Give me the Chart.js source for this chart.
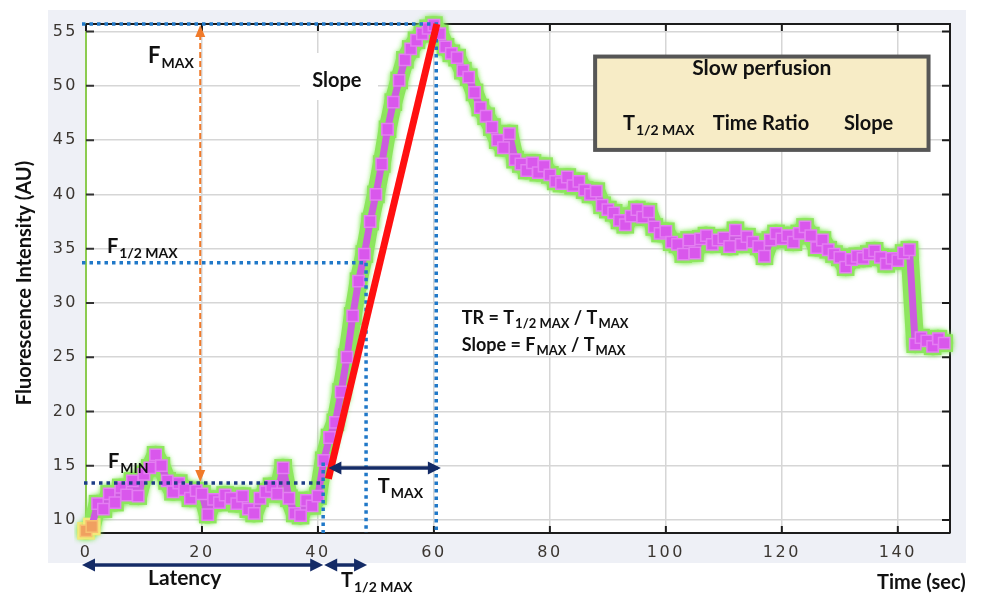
<!DOCTYPE html>
<html>
<head>
<meta charset="utf-8">
<script src="https://cdn.jsdelivr.net/npm/chart.js@4.4.1/dist/chart.umd.min.js"></script>
<style>
  html, body { margin: 0; padding: 0; background: #fff; }
</style>
</head>
<body>
<canvas id="perfChart" width="989" height="596"></canvas>
<script>
// sampling of the trace (seconds between points)
const sampleStep = 1;

// fluorescence intensity (AU), one value per second from t = 0
const intensity = [
  9.0, 9.4, 11.5, 11.0, 12.4, 11.6, 13.0, 12.3, 13.6, 12.2,
  14.2, 14.8, 16.0, 15.0, 13.6, 12.6, 13.4, 12.8, 12.0, 12.7,
  12.4, 10.5, 11.9, 11.6, 12.3, 12.0, 11.5, 12.2, 11.0, 10.6,
  12.0, 12.6, 13.1, 12.4, 14.8, 12.0, 10.6, 10.4, 11.8, 11.3,
  12.2, 15.5, 17.6, 19.0, 21.8, 25.0, 28.8, 32.0, 34.5, 37.5,
  40.0, 42.8, 46.0, 48.5, 50.5, 52.4, 53.4, 54.2, 54.8, 55.3,
  55.6, 54.8, 53.6, 53.0, 52.6, 51.4, 50.8, 49.4, 48.0, 47.2,
  46.2, 45.0, 44.3, 45.6, 43.2, 42.8, 42.2, 42.9, 42.0, 42.6,
  41.8, 41.2, 41.0, 41.6, 40.8, 41.2, 40.4, 40.0, 40.3, 39.0,
  38.6, 38.3, 37.6, 37.2, 38.0, 38.6, 37.9, 38.4, 37.0, 36.4,
  36.6, 35.6, 35.4, 34.5, 35.8, 34.6, 35.9, 36.2, 35.4, 35.8,
  36.0, 35.2, 36.7, 35.4, 36.1, 35.6, 35.2, 34.3, 35.8, 36.4,
  35.9, 36.2, 35.6, 36.4, 37.0, 36.2, 35.1, 35.8, 34.9, 34.5,
  34.2, 33.3, 34.0, 34.3, 34.1, 34.5, 34.8, 34.2, 33.6, 34.1,
  33.9, 34.6, 34.9, 26.2, 26.8, 26.5, 26.0, 26.7, 26.3
];

const xTicks = [0, 20, 40, 60, 80, 100, 120, 140];
const yTicks = [10, 15, 20, 25, 30, 35, 40, 45, 50, 55];

// annotation anchors (data units)
const tLatency = 40.9, tHalfMax = 48.3, tPeak = 60.4;
const fMin = 13.4, fHalfMax = 33.7, fMax = 55.7;
const fMaxArrowX = 19.7;
const slopeFrom = [41.8, 13.8], slopeTo = [60.5, 55.7];
const tMaxArrow = [41.8, 61.2, 14.8];

const FONT = '"Lato", "Open Sans", sans-serif';
const points = intensity.map((v, i) => ({ x: i * sampleStep, y: v }));

function dotted(ctx, x1, y1, x2, y2, color) {
  ctx.save();
  ctx.strokeStyle = color;
  ctx.lineWidth = 3.5;
  ctx.setLineDash([3.5, 4]);
  ctx.beginPath(); ctx.moveTo(x1, y1); ctx.lineTo(x2, y2); ctx.stroke();
  ctx.restore();
}

function head(ctx, x, y, ang, len, wid, color) {
  ctx.save();
  ctx.fillStyle = color;
  ctx.translate(x, y); ctx.rotate(ang);
  ctx.beginPath(); ctx.moveTo(0, 0); ctx.lineTo(-len, -wid / 2); ctx.lineTo(-len, wid / 2); ctx.closePath();
  ctx.fill();
  ctx.restore();
}

function hArrow(ctx, x1, x2, y, color) {
  ctx.save();
  ctx.strokeStyle = color; ctx.lineWidth = 3.5;
  ctx.beginPath(); ctx.moveTo(x1 + 6, y); ctx.lineTo(x2 - 6, y); ctx.stroke();
  ctx.restore();
  head(ctx, x1, y, Math.PI, 13, 13, color);
  head(ctx, x2, y, 0, 13, 13, color);
}

// draws pieces like [['TR = T', 0], ['1/2 MAX', 1]] where 1 = subscript
function richText(ctx, x, y, parts, size, subSize) {
  let cx = x;
  parts.forEach(([txt, sub]) => {
    ctx.font = 'bold ' + (sub ? subSize : size) + 'px ' + FONT;
    ctx.fillText(txt, cx, sub ? y + subSize * 0.35 : y);
    cx += ctx.measureText(txt).width + (sub ? 0 : 1);
  });
  return cx - x;
}

const decorations = {
  id: 'decorations',
  beforeDraw(chart) {
    const { ctx, chartArea: a } = chart;
    ctx.save();
    ctx.fillStyle = '#ffffff'; ctx.fillRect(0, 0, chart.width, chart.height);
    ctx.fillStyle = '#eef0f6'; ctx.fillRect(48, 10, 918, 553);
    ctx.fillStyle = '#ffffff'; ctx.fillRect(a.left, a.top, a.right - a.left, a.bottom - a.top);
    ctx.restore();
    ctx.letterSpacing = '2.5px';
  },
  beforeDatasetsDraw(chart) {
    const { ctx, chartArea: a, scales: { x, y } } = chart;
    ctx.letterSpacing = '0px';
    ctx.save();
    // "Slope" label box hides the grid behind it
    ctx.fillStyle = '#ffffff';
    ctx.fillRect(300, 53, 78, 47);
    // frame top / right and inward ticks
    ctx.strokeStyle = '#1c1c1c'; ctx.lineWidth = 2;
    ctx.beginPath();
    ctx.moveTo(a.left, a.top); ctx.lineTo(a.right, a.top); ctx.lineTo(a.right, a.bottom);
    xTicks.forEach(v => {
      const px = x.getPixelForValue(v);
      ctx.moveTo(px, a.bottom); ctx.lineTo(px, a.bottom - 7);
      ctx.moveTo(px, a.top); ctx.lineTo(px, a.top + 7);
    });
    yTicks.forEach(v => {
      const py = y.getPixelForValue(v);
      ctx.moveTo(a.right, py); ctx.lineTo(a.right - 8, py);
    });
    ctx.stroke();
    ctx.strokeStyle = '#333';
    ctx.beginPath();
    yTicks.forEach(v => {
      const py = y.getPixelForValue(v);
      ctx.moveTo(a.left, py); ctx.lineTo(a.left + 8, py);
    });
    ctx.stroke();
    ctx.restore();
  },
  beforeDatasetDraw(chart, args) {
    // soft glow round the green halo
    if (args.index === 1) {
      chart.ctx.save();
      chart.ctx.shadowColor = 'rgba(140,235,100,0.9)';
      chart.ctx.shadowBlur = 5;
    }
  },
  afterDatasetDraw(chart, args) {
    if (args.index === 1) chart.ctx.restore();
  },
  afterDatasetsDraw(chart) {
    const { ctx, chartArea: a, scales: { x, y } } = chart;
    const px = v => x.getPixelForValue(v), py = v => y.getPixelForValue(v);
    const blue = '#2078c8', navy = '#1d3f86', dark = '#142b66';

    dotted(ctx, px(0) - 4, a.top, px(tPeak) + 2, a.top, blue);
    dotted(ctx, px(tPeak), a.top, px(tPeak), a.bottom, blue);
    dotted(ctx, px(0) - 4, py(fHalfMax), px(tHalfMax), py(fHalfMax), blue);
    dotted(ctx, px(tHalfMax), py(fHalfMax), px(tHalfMax), a.bottom, blue);
    dotted(ctx, px(0) - 2, py(fMin), px(tLatency), py(fMin), navy);
    dotted(ctx, px(tLatency), py(15.3), px(tLatency), a.bottom, blue);

    // F max arrow
    ctx.save();
    ctx.strokeStyle = '#f07a2a'; ctx.lineWidth = 2; ctx.setLineDash([6, 3]);
    ctx.beginPath(); ctx.moveTo(px(fMaxArrowX), a.top + 10); ctx.lineTo(px(fMaxArrowX), py(fMin) - 10); ctx.stroke();
    ctx.restore();
    head(ctx, px(fMaxArrowX), a.top + 1, -Math.PI / 2, 12, 10, '#f07a2a');
    head(ctx, px(fMaxArrowX), py(fMin) - 1, Math.PI / 2, 12, 10, '#f07a2a');

    // slope line
    ctx.save();
    ctx.strokeStyle = '#ff1010'; ctx.lineWidth = 7;
    ctx.beginPath(); ctx.moveTo(px(slopeFrom[0]), py(slopeFrom[1])); ctx.lineTo(px(slopeTo[0]), py(slopeTo[1])); ctx.stroke();
    ctx.restore();

    hArrow(ctx, px(tMaxArrow[0]), px(tMaxArrow[1]), py(tMaxArrow[2]), dark);
  },
  afterDraw(chart) {
    const { ctx, chartArea: a, scales: { x, y } } = chart;
    const px = v => x.getPixelForValue(v), py = v => y.getPixelForValue(v);
    const dark = '#142b66';
    ctx.save();
    ctx.fillStyle = '#111';
    ctx.textBaseline = 'alphabetic';

    richText(ctx, px(10.7), py(52.1), [['F', 0], ['MAX', 1]], 22, 14);
    ctx.font = 'bold 20px ' + FONT; ctx.fillText('Slope', px(39.0), py(49.9));
    richText(ctx, px(3.6), py(34.6), [['F', 0], ['1/2 MAX', 1]], 20, 14);
    richText(ctx, px(3.8), py(14.8), [['F', 0], ['MIN', 1]], 20, 14);
    richText(ctx, px(50.3), py(12.5), [['T', 0], ['MAX', 1]], 20, 14);
    richText(ctx, px(64.8), py(28.1), [['TR = T', 0], ['1/2 MAX', 1], [' / T', 0], ['MAX', 1]], 18, 13);
    richText(ctx, px(64.8), py(25.6), [['Slope = F', 0], ['MAX', 1], [' / T', 0], ['MAX', 1]], 18, 13);

    // info box
    const bx1 = px(87.8), bx2 = px(145.3), by1 = py(52.7), by2 = py(44.1);
    ctx.fillStyle = '#f7ecc6';
    ctx.fillRect(bx1, by1, bx2 - bx1, by2 - by1);
    ctx.strokeStyle = '#565656'; ctx.lineWidth = 4;
    ctx.strokeRect(bx1, by1, bx2 - bx1, by2 - by1);
    ctx.fillStyle = '#111';
    ctx.font = 'bold 21px ' + FONT; ctx.textAlign = 'center';
    ctx.fillText('Slow perfusion', (bx1 + bx2) / 2, py(51.0));
    ctx.textAlign = 'left';
    richText(ctx, px(92.6), py(45.9), [['T', 0], ['1/2 MAX', 1]], 20, 14);
    ctx.font = 'bold 20px ' + FONT;
    ctx.fillText('Time Ratio', px(108.1), py(45.9));
    ctx.fillText('Slope', px(130.7), py(45.9));

    // below the axis
    const ay = a.bottom + 32;
    hArrow(ctx, px(0) - 4, px(tLatency), ay, dark);
    hArrow(ctx, px(tLatency) + 1, px(tHalfMax) + 1, ay, dark);
    ctx.fillStyle = '#111';
    ctx.font = 'bold 21px ' + FONT; ctx.fillText('Latency', 148, 585);
    richText(ctx, 341, 587, [['T', 0], ['1/2 MAX', 1]], 20, 14);
    ctx.font = 'bold 20px ' + FONT; ctx.fillText('Time (sec)', 877, 589);

    ctx.translate(25, 283); ctx.rotate(-Math.PI / 2);
    ctx.textAlign = 'center'; ctx.textBaseline = 'middle';
    ctx.font = 'bold 20px ' + FONT;
    ctx.fillText('Fluorescence Intensity (AU)', 0, 0);
    ctx.restore();
  }
};

const tickFont = { family: '"DejaVu Sans", sans-serif', size: 16 };

new Chart(document.getElementById('perfChart'), {
  type: 'line',
  data: {
    datasets: [
      {
        data: points,
        borderColor: '#cc5cdf',
        borderWidth: 7,
        borderJoinStyle: 'round',
        borderCapStyle: 'round',
        pointStyle: 'rect',
        pointRadius: 8,
        pointBackgroundColor: c => c.dataIndex < 2 ? '#f0a060' : '#d957ec',
        pointBorderColor: c => c.dataIndex < 2 ? '#f7c070' : '#e47ef2',
        pointBorderWidth: 1.5,
        tension: 0,
        clip: 8,
        order: 1
      },
      {
        data: points,
        borderColor: '#8ee65e',
        borderWidth: 18,
        borderJoinStyle: 'round',
        borderCapStyle: 'round',
        pointStyle: 'rect',
        pointRadius: 12.5,
        pointBackgroundColor: c => c.dataIndex < 2 ? '#f3ea7a' : '#8ee65e',
        pointBorderWidth: 0,
        tension: 0,
        clip: 12,
        order: 2
      }
    ]
  },
  options: {
    responsive: false,
    animation: false,
    layout: { padding: { left: 26, top: 24, right: 39, bottom: 0 } },
    plugins: { legend: { display: false }, tooltip: { enabled: false } },
    scales: {
      x: {
        type: 'linear', min: 0, max: 149,
        afterBuildTicks: s => { s.ticks = xTicks.map(v => ({ value: v })); },
        afterFit: s => { s.height = 63; },
        ticks: { font: tickFont, color: '#3b3631', padding: 10, maxRotation: 0, autoSkip: false },
        grid: { color: '#d6d6d6', lineWidth: 1.5, drawTicks: false },
        border: { color: '#1c1c1c', width: 2 }
      },
      y: {
        min: 8.8, max: 55.7,
        afterBuildTicks: s => { s.ticks = yTicks.map(v => ({ value: v })); },
        afterFit: s => { s.width = 60; },
        ticks: { font: tickFont, color: '#3b3631', padding: 8 },
        grid: { color: '#d6d6d6', lineWidth: 1.5, drawTicks: false },
        border: { color: '#8ccb4f', width: 2 }
      }
    }
  },
  plugins: [decorations]
});
</script>
</body>
</html>
